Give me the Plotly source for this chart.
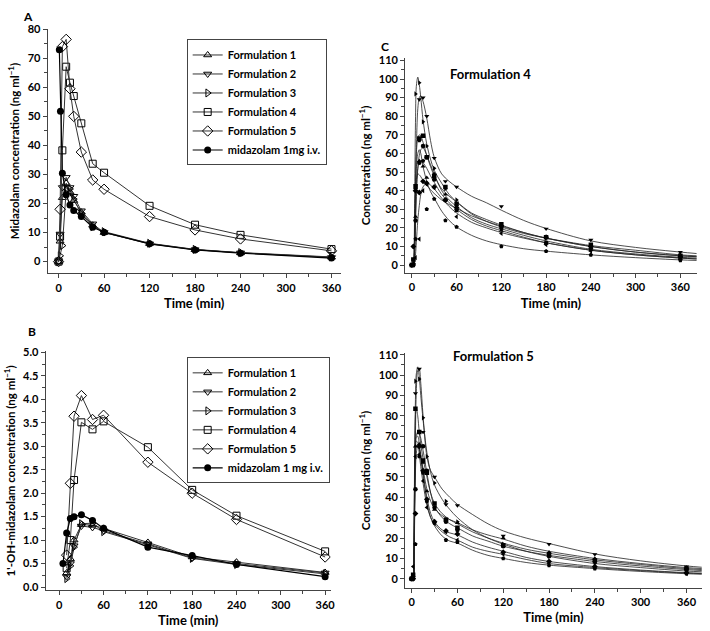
import plotly.graph_objects as go

# ---------------- Panel A: midazolam (mean) ----------------
tA = [0, 2, 5, 10, 15, 20, 30, 45, 60, 120, 180, 240, 360]
A_F1 = [0, 7.0, 22.0, 27.0, 24.0, 21.0, 17.0, 12.5, 10.0, 6.2, 4.1, 3.0, 1.5]
A_F2 = [0, 9.5, 25.5, 29.0, 25.5, 22.5, 17.5, 13.0, 10.0, 6.1, 4.1, 3.0, 1.4]
A_F3 = [0, 2.0, 5.5, 24.5, 25.0, 21.5, 16.5, 12.0, 10.3, 6.3, 4.2, 3.1, 1.6]
A_F4 = [0, 8.6, 38.3, 67.1, 61.6, 57.0, 47.6, 33.7, 30.6, 19.2, 12.7, 9.2, 4.3]
A_F5 = [0, 18.0, 74.0, 76.5, 59.5, 50.0, 37.7, 28.1, 24.9, 15.5, 10.9, 7.8, 3.7]
tA_iv = [1, 2.5, 5, 10, 15, 20, 30, 45, 60, 120, 180, 240, 360]
A_iv = [72.9, 51.8, 30.4, 23.0, 19.5, 17.6, 15.5, 11.8, 10.1, 6.1, 4.0, 2.9, 1.2]

# ---------------- Panel B: 1'-OH-midazolam (mean) ----------------
tB_oral = [10, 15, 20, 30, 45, 60, 120, 180, 240, 360]
B_F1 = [0.30, 0.60, 1.00, 1.33, 1.32, 1.25, 0.95, 0.64, 0.53, 0.31]
B_F2 = [0.22, 0.50, 0.88, 1.30, 1.27, 1.20, 0.92, 0.62, 0.50, 0.30]
B_F3 = [0.18, 0.45, 0.85, 1.35, 1.36, 1.18, 0.90, 0.61, 0.48, 0.28]
B_F4 = [0.40, 1.00, 2.28, 3.51, 3.36, 3.53, 2.98, 2.07, 1.52, 0.76]
B_F5 = [0.68, 2.21, 3.64, 4.08, 3.57, 3.66, 2.66, 2.00, 1.44, 0.64]
tB_iv = [5, 10, 15, 20, 30, 45, 60, 120, 180, 240, 360]
B_iv = [0.50, 1.15, 1.46, 1.50, 1.54, 1.42, 1.25, 0.85, 0.67, 0.48, 0.22]

# ---------------- Panels C / D: individual subjects ----------------
t_obs = [0, 2, 5, 10, 15, 20, 30, 45, 60, 120, 180, 240, 360]
t_fit = [0, 2, 3, 4, 5, 6, 8, 10, 12, 15, 20, 25, 30, 40, 50, 60, 80, 100, 120, 150, 180, 240, 300, 360, 382]

C_obs = [
    [0, 1.0, 92, 98, 77, 64, 52, 41, 35, 21, 14.5, 10.5, 5.5],
    [0, 0.5, 43, 89, 90, 80, 57.5, 45, 42, 31.5, 19.5, 13.5, 7.0],
    [0, 3.0, 42, 68, 69.5, 58, 48, 42, 33, 22, 15, 11, 5.0],
    [0, 0.0, 24, 55, 64, 58, 46, 35, 30, 20, 12, 9, 4.0],
    [0, 0.5, 26, 56, 53, 47, 49, 38, 29, 18.5, 11.5, 8, 3.5],
    [0, 10, 40, 39, 45, 44, 42, 35, 31, 21, 15, 10, 4.5],
    [0, 0.0, 4, 14, 40, 43.5, 41.5, 35, 26, 17, 11, 7.5, 3.0],
    [0, 0.0, 14, 67, 56, 30, 35.5, 24, 20.5, 10, 7.5, 5.5, 2.5],
]
C_fit = [
    [0, 0, 8, 45, 80, 96, 101, 97, 90, 78, 65, 57, 51, 44, 38, 34, 27.5, 23.5, 20.5, 17, 14.5, 10.5, 8, 5.5, 5],
    [0, 0, 2, 15, 40, 62, 84, 90, 91, 88, 79, 67, 58, 49, 45, 42, 37, 33.5, 29.5, 24, 19.7, 13, 9.5, 7, 6.2],
    [0, 0, 3, 20, 45, 60, 68, 70, 69.5, 66, 59, 53, 48, 41, 37, 34, 28, 24.5, 21.5, 17.5, 14.5, 10, 7, 5, 4.5],
    [0, 0, 1, 8, 22, 35, 52, 59, 62, 63, 59, 54, 49, 40, 35, 31.5, 25.5, 22, 19.5, 16, 13, 8.5, 6, 4.2, 3.8],
    [0, 0, 2, 12, 30, 42, 52, 55.5, 56, 55, 52, 48, 44.5, 38, 33.5, 30, 24.5, 21, 18.5, 15, 12, 8, 5.5, 3.8, 3.3],
    [0, 0, 5, 25, 40, 46, 49, 48.5, 47.5, 45.5, 43, 40.5, 38.5, 35, 32.5, 30.5, 26.5, 23.5, 21, 17.5, 14.5, 10, 7, 5, 4.5],
    [0, 0, 0, 2, 6, 12, 24, 32, 38, 42, 44, 43, 41, 36, 31.5, 28, 23, 20, 17.5, 14.5, 12, 8, 5.5, 3.8, 3.3],
    [0, 0, 3, 18, 38, 52, 60, 62, 60, 53, 45, 39.5, 36, 29, 24, 20.5, 16, 13, 11, 8.8, 7.5, 5.5, 4, 2.8, 2.5],
]
D_obs = [
    [0, 1.0, 97, 98, 79, 60, 47, 38, 28, 17, 11, 7.5, 3.5],
    [0, 0.0, 91, 103, 72, 53, 50, 36.5, 36, 21, 17, 12, 6.0],
    [0, 2.0, 83.5, 72, 58, 52, 37, 29, 25, 16.5, 12, 9, 5.0],
    [0, 0.0, 44, 72, 65, 53, 35, 28, 24, 16, 11, 8.5, 4.5],
    [0, 1.5, 65, 66, 57, 43, 34, 29, 27.5, 20, 13, 10, 5.5],
    [0, 0.0, 32, 65, 53, 39, 28, 23.5, 22, 13, 8.5, 6, 3.0],
    [0, 6.0, 60, 61, 48, 35, 27, 23, 19, 12, 7.5, 5.5, 2.5],
    [0, 0.0, 17, 60, 52, 38, 27.5, 19, 18, 10, 6.5, 5, 2.5],
]
D_fit = [
    [0, 0, 10, 55, 88, 100, 104, 99, 90, 78, 62, 52, 46, 39, 34, 30, 24, 20, 17, 13.5, 11, 7.5, 5.5, 3.8, 3.4],
    [0, 0, 5, 35, 70, 90, 102, 103, 96, 80, 60, 53, 50, 44, 40, 36.5, 31.5, 27, 23.5, 20, 17.3, 12.2, 8.8, 6.3, 5.6],
    [0, 0, 15, 60, 80, 84, 80, 72, 66, 59, 50, 42, 37, 32, 29, 27, 23, 20, 17.5, 14.5, 12.5, 9.3, 7, 5, 4.5],
    [0, 0, 8, 40, 62, 70, 72, 71.5, 69, 63, 52, 42, 35.5, 30, 27, 25, 21, 18.5, 16, 13.5, 11.5, 8.5, 6.3, 4.5, 4],
    [0, 0, 12, 50, 65, 69.5, 70, 66, 61, 54, 44, 38, 34.5, 31, 29, 27.5, 24, 21.5, 19.5, 16, 13.5, 10, 7.5, 5.5, 5],
    [0, 0, 8, 42, 60, 65, 66, 64, 60, 52, 40, 32, 28, 24, 22.5, 21.5, 18, 15.5, 13.5, 10.5, 8.5, 6, 4.3, 3, 2.7],
    [0, 0, 12, 50, 64, 67.5, 67, 61, 55, 47, 36, 30, 27, 23, 20.5, 19, 15.5, 13.5, 12, 9.5, 7.5, 5.5, 4, 2.8, 2.5],
    [0, 0, 4, 30, 52, 61, 65, 63.5, 59, 51, 38, 30, 26, 21, 18.5, 17.5, 14, 11.5, 10, 8, 6.7, 5, 3.6, 2.5, 2.2],
]
subject_symbols = ["triangle-right", "triangle-down", "square", "circle",
                   "triangle-up", "diamond", "triangle-left", "pentagon"]

formulation_names = ["Formulation 1", "Formulation 2", "Formulation 3",
                     "Formulation 4", "Formulation 5"]
formulation_symbols = ["triangle-up-open", "triangle-down-open", "triangle-right-open",
                       "square-open", "diamond-open"]

FONT = "Lato"
W, H = 710, 631


def px_x(a, b):
    return [a / W, b / W]


def px_y(top, bottom):
    return [1 - bottom / H, 1 - top / H]


fig = go.Figure()

LINE_C = "#333333"

# Panel A traces
for name, sym, ys in zip(formulation_names, formulation_symbols, [A_F1, A_F2, A_F3, A_F4, A_F5]):
    fig.add_trace(go.Scatter(
        x=tA, y=ys, name=name, mode="lines+markers", xaxis="x", yaxis="y",
        line=dict(color=LINE_C, width=1),
        marker=dict(symbol=sym, size=8 if "diamond" in sym else 7, color="black",
                    line=dict(color="black", width=1)),
        legend="legend"))
fig.add_trace(go.Scatter(
    x=tA_iv, y=A_iv, name="midazolam 1mg i.v.", mode="lines+markers", xaxis="x", yaxis="y",
    line=dict(color="black", width=1.2),
    marker=dict(symbol="circle", size=7, color="black"), legend="legend"))

# Panel B traces
for name, sym, ys in zip(formulation_names, formulation_symbols, [B_F1, B_F2, B_F3, B_F4, B_F5]):
    fig.add_trace(go.Scatter(
        x=tB_oral, y=ys, name=name, mode="lines+markers", xaxis="x3", yaxis="y3",
        line=dict(color=LINE_C, width=1),
        marker=dict(symbol=sym, size=8 if "diamond" in sym else 7, color="black",
                    line=dict(color="black", width=1)),
        legend="legend2"))
fig.add_trace(go.Scatter(
    x=tB_iv, y=B_iv, name="midazolam 1 mg i.v.", mode="lines+markers", xaxis="x3", yaxis="y3",
    line=dict(color="black", width=1.2),
    marker=dict(symbol="circle", size=7, color="black"), legend="legend2"))

# Panels C and D
for fits, obs, xa, ya in [(C_fit, C_obs, "x2", "y2"), (D_fit, D_obs, "x4", "y4")]:
    for i in range(len(fits)):
        fig.add_trace(go.Scatter(
            x=t_fit, y=fits[i], mode="lines", xaxis=xa, yaxis=ya, showlegend=False,
            line=dict(color="#222222", width=0.8, shape="spline", smoothing=0.9),
            hoverinfo="skip"))
    for i in range(len(obs)):
        fig.add_trace(go.Scatter(
            x=t_obs, y=obs[i], mode="markers", xaxis=xa, yaxis=ya, showlegend=False,
            marker=dict(symbol=subject_symbols[i], size=4.5, color="black")))

tickfont = dict(family=FONT, size=11, color="black", weight="bold")
xtitlefont = dict(family=FONT, size=13, color="black", weight="bold")
ytitlefont = dict(family=FONT, size=11.5, color="black", weight="bold")


def xaxis(dom, rng, anchor):
    return dict(domain=dom, range=rng, anchor=anchor, showline=True, linecolor="#444",
                linewidth=1, ticks="outside", ticklen=4, tickcolor="#444",
                tickvals=[0, 60, 120, 180, 240, 300, 360], showgrid=False, zeroline=False,
                minor=dict(ticks="outside", ticklen=3, tickcolor="#444", dtick=30, tick0=0),
                tickfont=tickfont,
                title=dict(text="Time (min)", font=xtitlefont, standoff=6))


def yaxis(dom, rng, anchor, dtick, mdtick, title, fmt=None):
    d = dict(domain=dom, range=rng, anchor=anchor, showline=True, linecolor="#444",
             linewidth=1, ticks="outside", ticklen=4, tickcolor="#444", dtick=dtick, tick0=0,
             showgrid=False, zeroline=False,
             minor=dict(ticks="outside", ticklen=3, tickcolor="#444", dtick=mdtick, tick0=0),
             tickfont=tickfont, title=dict(text=title, font=ytitlefont, standoff=5))
    if fmt:
        d["tickformat"] = fmt
    return d


conc_title = "Concentration (ng ml<sup>−1</sup>)"

fig.update_layout(
    width=W, height=H, margin=dict(l=0, r=0, t=0, b=0),
    paper_bgcolor="white", plot_bgcolor="white",
    font=dict(family=FONT, size=11, color="black", weight="bold"),
    xaxis=xaxis(px_x(48, 343), [-14.4, 372], "y"),
    yaxis=yaxis(px_y(22, 270.7), [-4.07, 80.2], "x", 10, 5,
                "Midazolam concentration (ng ml<sup>−1</sup>)"),
    xaxis2=xaxis(px_x(408, 701.7), [-9, 382], "y2"),
    yaxis2=yaxis(px_y(52, 270), [-4.1, 111.2], "x2", 10, 5, conc_title),
    xaxis3=xaxis(px_x(46, 333), [-18.4, 367.5], "y3"),
    yaxis3=yaxis(px_y(350, 592.7), [-0.07, 5.02], "x3", 0.5, 0.25,
                 "1'-OH-midazolam concentration (ng ml<sup>−1</sup>)", ".1f"),
    xaxis4=xaxis(px_x(408, 706.7), [-8.5, 380], "y4"),
    yaxis4=yaxis(px_y(352, 590), [-4.35, 110.6], "x4", 10, 5, conc_title),
    legend=dict(x=188 / W, y=1 - 33 / H, xanchor="left", yanchor="top",
                bordercolor="#444", borderwidth=1, bgcolor="white",
                font=dict(family=FONT, size=11, color="black", weight="bold"),
                itemwidth=30, tracegroupgap=0),
    legend2=dict(x=188 / W, y=1 - 356 / H, xanchor="left", yanchor="top",
                 bordercolor="#444", borderwidth=1, bgcolor="white",
                 font=dict(family=FONT, size=11, color="black", weight="bold"),
                 itemwidth=30, tracegroupgap=0),
    showlegend=True,
)

ann_font = dict(family=FONT, size=12, color="black", weight="bold")
fig.add_annotation(text="A", x=28 / W, y=1 - 1 / H, xref="paper", yref="paper",
                   xanchor="center", yanchor="top", borderpad=0,
                   showarrow=False, font=ann_font)
fig.add_annotation(text="B", x=27 / W, y=1 - 330 / H, xref="paper", yref="paper",
                   borderpad=0, showarrow=False, font=ann_font)
fig.add_annotation(text="C", x=388 / W, y=1 - 32 / H, xref="paper", yref="paper",
                   borderpad=0, showarrow=False, font=ann_font)
fig.add_annotation(text="Formulation 4", x=537 / W, y=1 - 58 / H, xref="paper", yref="paper",
                   showarrow=False, font=dict(family=FONT, size=13, color="black", weight="bold"))
fig.add_annotation(text="Formulation 5", x=540 / W, y=1 - 355 / H, xref="paper", yref="paper",
                   showarrow=False, font=dict(family=FONT, size=13, color="black", weight="bold"))

fig.write_html("out.html", config={"displayModeBar": False},
               post_script="document.body.style.margin='0';document.body.style.overflow='hidden';")
